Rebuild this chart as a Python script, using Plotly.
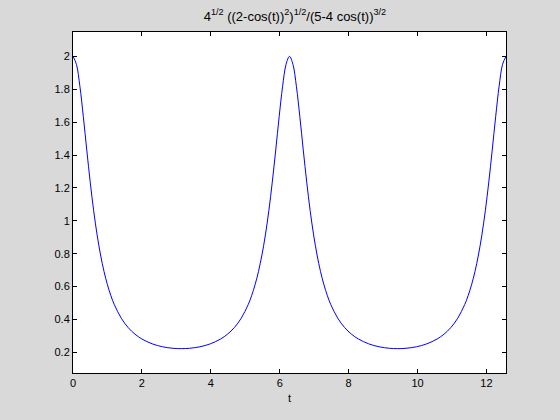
import plotly.graph_objects as go

t_vals = [0, 0.1, 0.2, 0.3, 0.4, 0.5, 0.6, 0.7, 0.8, 0.9, 1.0, 1.1, 1.2, 1.4, 1.6, 1.8, 2.0, 2.3, 2.6, 2.9, 3.1416,
          3.3832, 3.6832, 3.9832, 4.2832, 4.4832, 4.6832, 4.8832, 5.0832, 5.1832, 5.2832, 5.3832, 5.4832, 5.5832,
          5.6832, 5.7832, 5.8832, 5.9832, 6.0832, 6.1832, 6.2832,
          6.3832, 6.4832, 6.5832, 6.6832, 6.7832, 6.8832, 6.9832, 7.0832, 7.1832, 7.2832, 7.3832, 7.4832, 7.6832,
          7.8832, 8.0832, 8.2832, 8.5832, 8.8832, 9.1832, 9.4248,
          9.6664, 9.9664, 10.2664, 10.5664, 10.7664, 10.9664, 11.1664, 11.3664, 11.4664, 11.5664, 11.6664, 11.7664,
          11.8664, 11.9664, 12.0664, 12.1664, 12.2664, 12.3664, 12.4664, 12.5664]
y_vals = [2.0, 1.9512, 1.8181, 1.6328, 1.4298, 1.2347, 1.0612, 0.9138, 0.7917, 0.6918, 0.6104, 0.5440, 0.4896,
          0.4076, 0.3506, 0.3101, 0.2809, 0.2513, 0.2335, 0.2244, 0.2222,
          0.2244, 0.2335, 0.2513, 0.2809, 0.3101, 0.3506, 0.4076, 0.4896, 0.5440, 0.6104, 0.6918, 0.7917, 0.9138,
          1.0612, 1.2347, 1.4298, 1.6328, 1.8181, 1.9512, 2.0,
          1.9512, 1.8181, 1.6328, 1.4298, 1.2347, 1.0612, 0.9138, 0.7917, 0.6918, 0.6104, 0.5440, 0.4896,
          0.4076, 0.3506, 0.3101, 0.2809, 0.2513, 0.2335, 0.2244, 0.2222,
          0.2244, 0.2335, 0.2513, 0.2809, 0.3101, 0.3506, 0.4076, 0.4896, 0.5440, 0.6104, 0.6918, 0.7917, 0.9138,
          1.0612, 1.2347, 1.4298, 1.6328, 1.8181, 1.9512, 2.0]

x_ticks = [0, 2, 4, 6, 8, 10, 12]
x_tick_labels = ["0", "2", "4", "6", "8", "10", "12"]
y_ticks = [0.2, 0.4, 0.6, 0.8, 1.0, 1.2, 1.4, 1.6, 1.8, 2.0]
y_tick_labels = ["0.2", "0.4", "0.6", "0.8", "1", "1.2", "1.4", "1.6", "1.8", "2"]

title_text = "4<sup>1/2</sup> ((2-cos(t))<sup>2</sup>)<sup>1/2</sup>/(5-4 cos(t))<sup>3/2</sup>"
x_label = "t"

fig = go.Figure()
fig.add_trace(go.Scatter(x=t_vals, y=y_vals, mode="lines",
                         line=dict(color="#0000ff", width=1, shape="spline", smoothing=1),
                         showlegend=False, hoverinfo="skip"))

font_family = "Liberation Sans, Arial, Helvetica, sans-serif"
axis_common = dict(showline=True, linecolor="black", linewidth=1, mirror="ticks",
                   ticks="inside", ticklen=4, tickcolor="black", tickwidth=1,
                   showgrid=False, zeroline=False,
                   tickfont=dict(family=font_family, size=11, color="black"))

fig.update_layout(
    width=560, height=420,
    paper_bgcolor="#d9d9d9", plot_bgcolor="white",
    margin=dict(l=73, r=54, t=32, b=47),
    title=dict(text=title_text, x=287 / 560, xanchor="center", xref="paper",
               y=1 - 16 / 420, yanchor="middle", yref="container",
               font=dict(family=font_family, size=13, color="black")),
    xaxis=dict(range=[0, 12.5664], tickvals=x_ticks, ticktext=x_tick_labels,
               title=dict(text=x_label, font=dict(family=font_family, size=11, color="black"), standoff=6),
               **axis_common),
    yaxis=dict(range=[0.0741, 2.1481], tickvals=y_ticks, ticktext=y_tick_labels, **axis_common),
)

fig.write_html("out.html", config={"displayModeBar": False},
               post_script="document.body.style.margin='0';document.body.style.background='#d9d9d9';")
